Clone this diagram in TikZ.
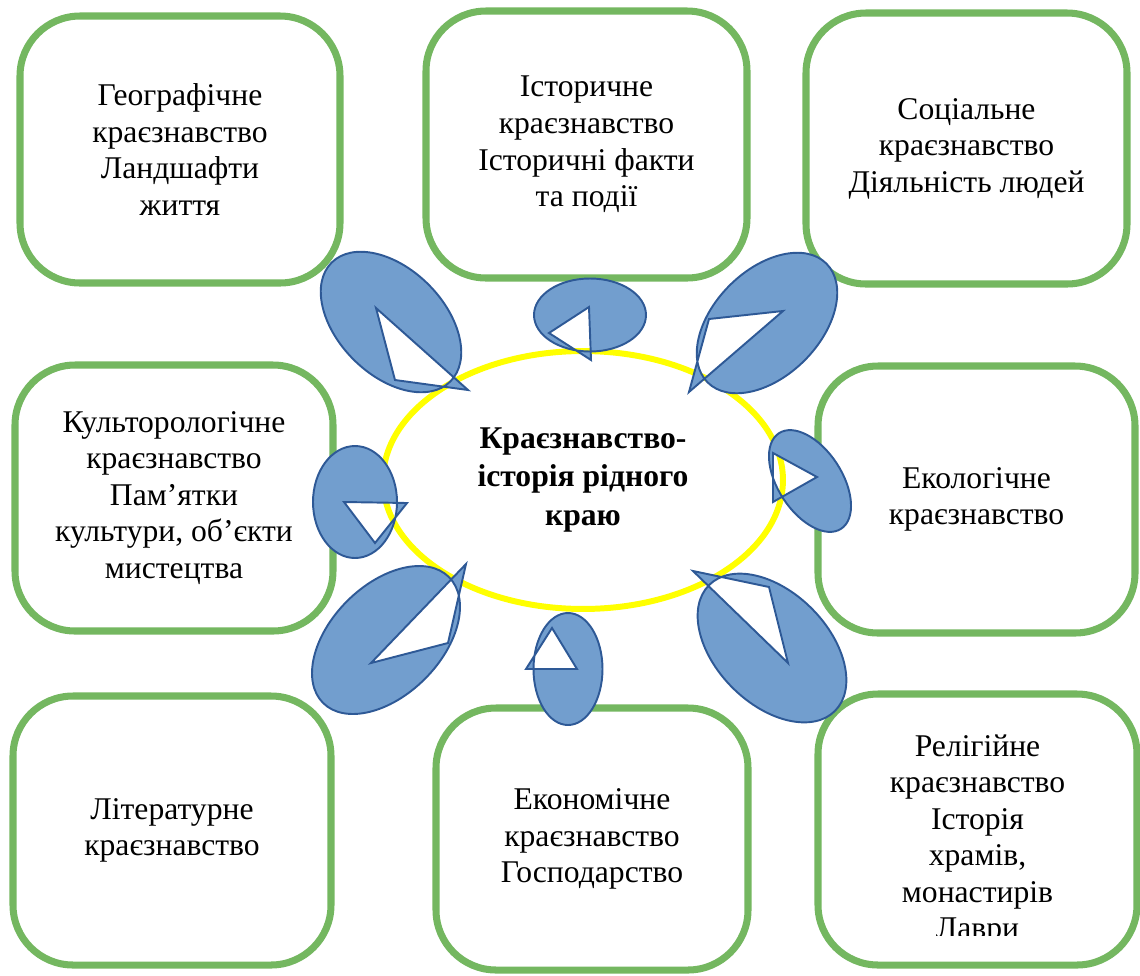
\documentclass[tikz,border=0pt]{standalone}
\usepackage{fontspec}
\setmainfont{Liberation Serif}
\usepackage{tikz}
\usetikzlibrary{shapes.geometric}
\definecolor{boxGreen}{RGB}{116,183,96}
\definecolor{ringYellow}{RGB}{255,255,0}
\definecolor{calloutFill}{RGB}{114,158,206}
\definecolor{calloutLine}{RGB}{46,89,150}
\tikzstyle{pixelGrid} = [x = .02cm, y = -.02cm]
\tikzstyle{topicStyle} = [draw = boxGreen, fill = white, line width = 4pt, rounded corners = 1.2cm, inner sep = 0pt, align = center, font = \fontsize{18}{20.8}\selectfont]
\tikzstyle{topicText} = [inner sep = 0pt, align = center, font = \fontsize{18}{20.8}\selectfont]
\tikzstyle{ringStyle} = [draw = ringYellow, line width = 3.4pt, ellipse, inner sep = 0pt, minimum width = 8cm, minimum height = 5.16cm, align = center, font = \bfseries\fontsize{18}{22}\selectfont]
\tikzstyle{calloutStyle} = [fill = calloutFill, draw = calloutLine, line width = 1.1pt, even odd rule, line join = miter]
\newcommand{\topicBox}[6]{\node [topicStyle, minimum width = {(#4 - #2) * .02cm}, minimum height = {(#5 - #3) * .02cm}] (#1) at ({(#2 + #4) / 2}, {(#3 + #5) / 2}) {#6};}
\newcommand{\calloutBubble}[7]{\filldraw [calloutStyle] (#1) ellipse [x radius = #2, y radius = #3, rotate = #4] (#5) -- (#6) -- (#7) -- cycle;}

\begin{document}
\begin{tikzpicture}[pixelGrid]
  \useasboundingbox (0,0) rectangle (1140,975);

  % topics round the centre
  \topicBox{geography}{20}{16}{340}{283}{Географічне\\краєзнавство\\Ландшафти\\життя}
  \topicBox{history}{426}{11}{747}{278}{Історичне\\краєзнавство\\Історичні факти\\та події}
  \topicBox{social}{806}{13}{1127}{284}{Соціальне\\краєзнавство\\Діяльність людей}
  \topicBox{culture}{15}{365}{333}{631}{Культорологічне\\краєзнавство\\Пам’ятки\\культури, об’єкти\\мистецтва}
  \topicBox{ecology}{818}{366}{1135}{633}{Екологічне\\краєзнавство}
  \topicBox{literature}{13}{696}{331}{965}{Літературне\\краєзнавство}
  \topicBox{economy}{436}{708}{748}{970}{Економічне\\краєзнавство\\Господарство}
  \topicBox{religion}{818}{694}{1137}{965}{}
  \begin{scope}
    \clip (818,694) rectangle (1137,935);
    \node [topicText] (religionText) at (977.5,840) {Релігійне\\краєзнавство\\Історія\\храмів,\\монастирів\\Лаври};
  \end{scope}

  % centre
  \node [ringStyle] (homeland) at (583,480) {Краєзнавство-\\історія рідного\\краю};

  % callouts
  \calloutBubble{391,322}{84}{53}{-45}{376,308}{395,380}{468,390}
  \calloutBubble{590,315}{56}{36.5}{0}{589,307}{549,333}{591,360}
  \calloutBubble{767,323}{84}{53}{45}{783,311}{709,319}{689,392}
  \calloutBubble{355,502}{42}{56}{0}{344,502}{407,503}{375,543}
  \calloutBubble{810,481}{57}{32}{-57}{773,453}{817,477}{773,502}
  \calloutBubble{386,640}{89}{55}{45}{466,564}{448,643}{371,663}
  \calloutBubble{568,669}{34.5}{56}{0}{552,628}{577,669}{526,669}
  \calloutBubble{772,648}{89}{56}{-45}{693,571}{769,587}{788,663}
\end{tikzpicture}
\end{document}
